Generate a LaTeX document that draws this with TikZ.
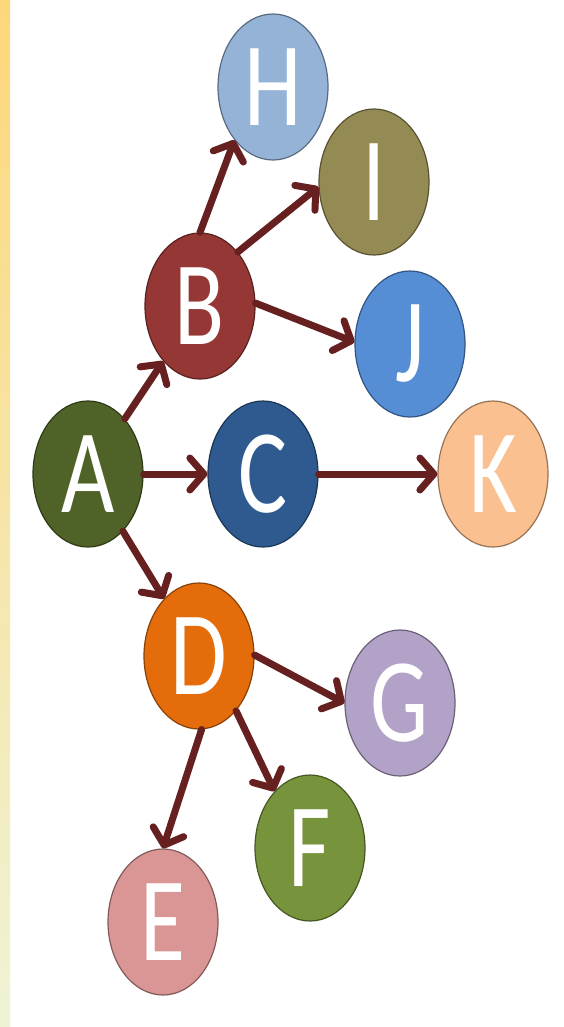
\documentclass[tikz,border=0pt]{standalone}
\usepackage{fontspec}
\setmainfont{Carlito}
\usetikzlibrary{shapes.geometric,arrows.meta}
\definecolor{cA}{HTML}{4F6228}
\definecolor{cB}{HTML}{953735}
\definecolor{cC}{HTML}{2F5A8F}
\definecolor{cD}{HTML}{E46C0A}
\definecolor{cE}{HTML}{D99694}
\definecolor{cF}{HTML}{77933C}
\definecolor{cG}{HTML}{B3A2C7}
\definecolor{cH}{HTML}{95B3D7}
\definecolor{cI}{HTML}{948A54}
\definecolor{cJ}{HTML}{558ED5}
\definecolor{cK}{HTML}{FAC090}
\definecolor{arr}{HTML}{66201F}
\definecolor{stripTop}{HTML}{FDD77A}
\definecolor{stripBot}{HTML}{EFF3D5}
\newcommand{\lett}[1]{\scalebox{1}[1.3]{\fontsize{92}{92}\selectfont #1}}
\tikzset{
  bub/.style={ellipse, minimum width=110pt, minimum height=146pt, inner sep=0pt,
    fill=#1, draw=#1!60!black, line width=1.2pt, text=white},
  link/.style={draw=arr, line width=7pt, line cap=round,
    -{Straight Barb[length=14pt,width=32pt,round]}},
}
\begin{document}
\begin{tikzpicture}[x=1pt,y=-1pt]
\fill[white] (0,0) rectangle (564,1027);
\useasboundingbox (0,0) rectangle (564,1027);
\shade[top color=stripTop, bottom color=stripBot] (0,0) rectangle (10,1027);
\node[bub=cA] (A) at (88,474) {\lett{A}};
\node[bub=cB] (B) at (200,306) {\lett{B}};
\node[bub=cC] (C) at (263,474) {\lett{C}};
\node[bub=cD] (D) at (199,656) {\lett{D}};
\node[bub=cE] (E) at (163,922) {\lett{E}};
\node[bub=cF] (F) at (310,848) {\lett{F}};
\node[bub=cG] (G) at (400,703) {\lett{G}};
\node[bub=cH] (H) at (273,87) {\lett{H}};
\node[bub=cI] (I) at (374,182) {\lett{I}};
\node[bub=cJ] (J) at (410,344) {\lett{J}};
\node[bub=cK] (K) at (493,474) {\lett{K}};
\draw[link] (A) -- (B);
\draw[link] (A) -- (C);
\draw[link] (A) -- (D);
\draw[link] (B.90) -- (H.234);
\draw[link] (B.55) -- (I.185);
\draw[link] (B.3) -- (J.178);
\draw[link] (C) -- (K);
\draw[link] (D.1) -- (G.180);
\draw[link] (D.304) -- (F.122);
\draw[link] (D.272) -- (E.90);
\end{tikzpicture}
\end{document}
